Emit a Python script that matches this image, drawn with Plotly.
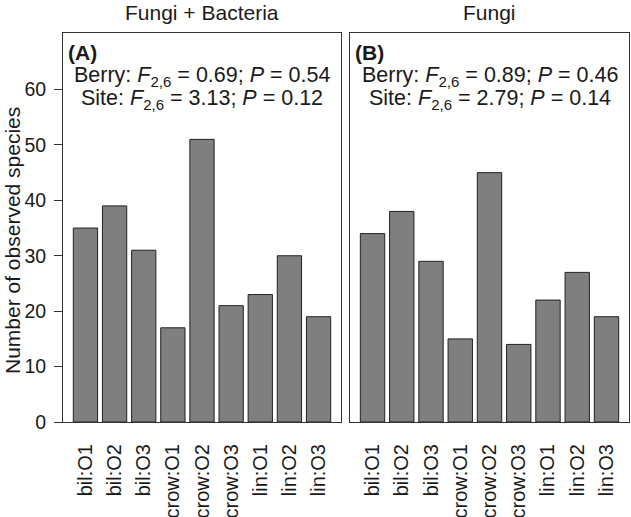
import plotly.graph_objects as go

categories = ["bil:O1", "bil:O2", "bil:O3", "crow:O1", "crow:O2", "crow:O3", "lin:O1", "lin:O2", "lin:O3"]
fungi_bacteria = [35, 39, 31, 17, 51, 21, 23, 30, 19]
fungi = [34, 38, 29, 15, 45, 14, 22, 27, 19]
panel_titles = ["Fungi + Bacteria", "Fungi"]
panel_labels = ["(A)", "(B)"]
berry_stats = [("0.69", "0.54"), ("0.89", "0.46")]
site_stats = [("3.13", "0.12"), ("2.79", "0.14")]
y_ticks = [0, 10, 20, 30, 40, 50, 60]

FONT = "Arial, Liberation Sans, Helvetica, sans-serif"
TXT = "#1a1a1a"
fig = go.Figure()

bar_style = dict(marker=dict(color="#7f7f7f", line=dict(color="#222222", width=1)), showlegend=False)
fig.add_trace(go.Bar(x=categories, y=fungi_bacteria, xaxis="x", yaxis="y", **bar_style))
fig.add_trace(go.Bar(x=categories, y=fungi, xaxis="x2", yaxis="y2", **bar_style))

xcommon = dict(type="category", range=[-0.77, 8.77], tickangle=-90, showline=True, mirror=True,
               linecolor="#333333", linewidth=1, ticks="outside", ticklen=13,
               tickcolor="rgba(0,0,0,0)", showgrid=False, zeroline=False, automargin=False,
               tickfont=dict(family=FONT, size=20, color=TXT))
ycommon = dict(range=[0, 70.2], showline=True, mirror=True, linecolor="#333333", linewidth=1,
               showgrid=False, zeroline=False, automargin=False)

dom1 = [0, 278 / 566]
dom2 = [287 / 566, 1.0]

fig.update_layout(
    width=631, height=517,
    margin=dict(l=63, r=2, t=33, b=95),
    paper_bgcolor="white", plot_bgcolor="white",
    bargap=0.2 / 1.2,
    font=dict(family=FONT, size=20, color=TXT),
    xaxis=dict(domain=dom1, anchor="y", **xcommon),
    xaxis2=dict(domain=dom2, anchor="y2", **xcommon),
    yaxis=dict(domain=[0, 1], anchor="x", tickvals=y_ticks, ticks="outside", ticklen=8,
               tickcolor="#333333", ticklabelstandoff=4,
               tickfont=dict(family=FONT, size=19.5, color=TXT), **ycommon),
    yaxis2=dict(domain=[0, 1], anchor="x2", showticklabels=False, ticks="", **ycommon),
)

def ypaper(px):
    return (422 - px) / 389

annotations = []
for i, dom in enumerate([dom1, dom2]):
    cx = (dom[0] + dom[1]) / 2
    annotations.append(dict(text=panel_titles[i], x=cx, y=ypaper(13), xref="paper", yref="paper",
                            showarrow=False, xanchor="center", yanchor="middle",
                            font=dict(family=FONT, size=21, color=TXT)))
    annotations.append(dict(text="<b>" + panel_labels[i] + "</b>", x=dom[0] + 3 / 566, y=ypaper(52),
                            xref="paper", yref="paper", showarrow=False, xanchor="left", yanchor="middle",
                            font=dict(family=FONT, size=21, color=TXT)))
    f, p = berry_stats[i]
    annotations.append(dict(text=f"Berry: <i>F</i><sub>2,6</sub> = {f}; <i>P</i> = {p}", x=cx, y=ypaper(76),
                            xref="paper", yref="paper", showarrow=False, xanchor="center", yanchor="middle",
                            font=dict(family=FONT, size=21.5, color=TXT)))
    f, p = site_stats[i]
    annotations.append(dict(text=f"Site: <i>F</i><sub>2,6</sub> = {f}; <i>P</i> = {p}", x=cx, y=ypaper(99),
                            xref="paper", yref="paper", showarrow=False, xanchor="center", yanchor="middle",
                            font=dict(family=FONT, size=21.5, color=TXT)))

annotations.append(dict(text="Number of observed species", x=-(63 - 13) / 566, y=ypaper(241),
                        xref="paper", yref="paper", showarrow=False, textangle=-90,
                        xanchor="center", yanchor="middle",
                        font=dict(family=FONT, size=21, color=TXT)))
fig.update_layout(annotations=annotations)

fig.write_html("out.html", config={"displayModeBar": False},
               post_script="document.body.style.margin='0';document.body.style.overflow='hidden';")
